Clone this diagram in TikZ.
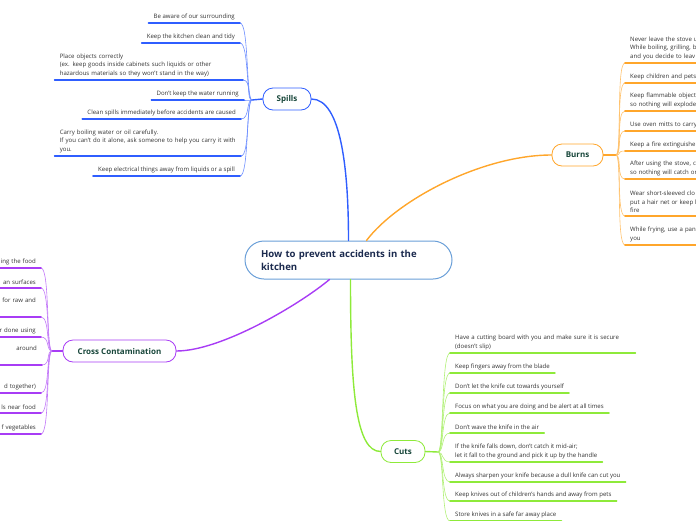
\documentclass[tikz,border=0pt]{standalone}
\usepackage{fontspec}
\setmainfont{Open Sans}
\usepackage{xcolor}
\usepackage{tikz}

\definecolor{spillblue}{HTML}{2F5EFF}
\definecolor{burnorange}{HTML}{FFA62B}
\definecolor{crosspurple}{HTML}{A83CF5}
\definecolor{cutgreen}{HTML}{8EEA3A}
\definecolor{centralblue}{HTML}{6A9FD8}
\definecolor{titlenavy}{HTML}{1B2A4E}
\definecolor{topicgreen}{HTML}{17463A}
\definecolor{leafgray}{HTML}{333333}

\begin{document}
\begin{tikzpicture}[x=1pt, y=-1pt, line cap=round, line join=round,
    leaf/.style={inner xsep=5pt, inner ysep=3pt, align=left, text=leafgray,
        font=\fontsize{6.05}{8.5}\selectfont},
    topic/.style={thick, fill=white, rounded corners=10pt, minimum height=22pt,
        inner sep=0pt, text=topicgreen, font=\fontsize{8}{9}\selectfont\bfseries},
    uline/.style={line width=1.6pt},
    twig/.style={line width=0.6pt},
    bough/.style={line width=1.4pt}]

    \useasboundingbox (0,0) rectangle (696,520);
    \clip (0,0) rectangle (696,520);

    % --- Central topic ---
    \node[draw=centralblue, line width=1pt, fill=white, rounded corners=19pt,
          minimum width=207pt, minimum height=38pt, text width=175pt,
          inner xsep=16pt, align=left, text=titlenavy,
          font=\fontsize{9.6}{13}\selectfont\bfseries]
        (central) at (348.5,260) {How to prevent accidents in the\\kitchen};

    % --- Main topics ---
    \node[topic, draw=spillblue, minimum width=48pt] (spills) at (287,99) {Spills};
    \node[topic, draw=burnorange, minimum width=51pt] (burns) at (577.5,155) {Burns};
    \node[topic, draw=crosspurple, minimum width=113pt] (cross) at (119.5,351) {Cross Contamination};
    \node[topic, draw=cutgreen, minimum width=44pt] (cuts) at (403,451.5) {Cuts};

    % --- Branches from the central topic ---
    \draw[bough, spillblue] (central.north)
        .. controls +(0,-70) and +(30,0) .. (spills.east);
    \draw[bough, burnorange] ([xshift=18pt]central.north)
        .. controls +(30,-40) and +(-70,0) .. (burns.west);
    \draw[bough, crosspurple] ([xshift=-19pt]central.south)
        .. controls +(-30,25) and +(45,0) .. (cross.east);
    \draw[bough, cutgreen] ([xshift=2pt]central.south)
        .. controls +(0,110) and +(-25,0) .. (cuts.west);

    % --- Junctions ---
    \coordinate (sj) at (252,100);
    \coordinate (bj) at (616,155);
    \coordinate (xj) at (52,351);
    \coordinate (cj) at (438,452);
    \draw[bough, spillblue] (spills.west) -- (sj);
    \draw[bough, burnorange] (burns.east) -- (bj);
    \draw[bough, crosspurple] (cross.west) -- (xj);
    \draw[bough, cutgreen] (cuts.east) -- (cj);

    % --- Spills ---
    \node[leaf, anchor=south east] (s1) at (240,23) {Be aware of our surrounding};
    \node[leaf, anchor=south east] (s2) at (240,43) {Keep the kitchen clean and tidy};
    \node[leaf, anchor=south east, text width=178pt] (s3) at (243,80)
        {Place objects correctly\\(ex. keep goods inside cabinets such liquids or other\\hazardous materials so they won't stand in the way)};
    \node[leaf, anchor=south east] (s4) at (244,100) {Don't keep the water running};
    \node[leaf, anchor=south east] (s5) at (241,119) {Clean spills immediately before accidents are caused};
    \node[leaf, anchor=south east, text width=176pt] (s6) at (241,156)
        {Carry boiling water or oil carefully.\\If you can't do it alone, ask someone to help you carry it with\\you.};
    \node[leaf, anchor=south east] (s7) at (240,176) {Keep electrical things away from liquids or a spill};
    \foreach \n in {s1,s2,s3,s4,s5,s6,s7} {
        \draw[twig, spillblue!70] (sj) .. controls +(-6,0) and +(9,0) .. (\n.south east);
        \draw[uline, spillblue] (\n.south west) -- (\n.south east);
    }

    % --- Burns ---
    \node[leaf, anchor=south west, text width=170pt] (b1) at (625,63)
        {Never leave the stove u\\While boiling, grilling, b\\and you decide to leav};
    \node[leaf, anchor=south west, text width=170pt] (b2) at (625,83) {Keep children and pets};
    \node[leaf, anchor=south west, text width=170pt] (b3) at (625,111)
        {Keep flammable object\\so nothing will explode};
    \node[leaf, anchor=south west, text width=170pt] (b4) at (625,131) {Use oven mitts to carry};
    \node[leaf, anchor=south west, text width=170pt] (b5) at (625,151) {Keep a fire extinguishe};
    \node[leaf, anchor=south west, text width=170pt] (b6) at (625,179)
        {After using the stove, c\\so nothing will catch or};
    \node[leaf, anchor=south west, text width=170pt] (b7) at (625,216)
        {Wear short-sleeved clo\\put a hair net or keep h\\fire};
    \node[leaf, anchor=south west, text width=170pt] (b8) at (625,245)
        {While frying, use a pan\\you};
    \foreach \n in {b1,b2,b3,b4,b5,b6,b7,b8} {
        \draw[twig, burnorange!70] (bj) .. controls +(6,0) and +(-9,0) .. (\n.south west);
        \draw[uline, burnorange] (\n.south west) -- (\n.south east);
    }

    % --- Cross Contamination ---
    \node[leaf, anchor=south east, align=right, text width=150pt] (x1) at (41,268) {ing the food};
    \node[leaf, anchor=south east, align=right, text width=150pt] (x2) at (41,288) {an surfaces};
    \node[leaf, anchor=south east, align=right, text width=150pt] (x3) at (41,317) {for raw and\\ \strut};
    \node[leaf, anchor=south east, align=right, text width=150pt] (x4) at (41,337) {r done using};
    \node[leaf, anchor=south east, align=right, text width=150pt] (x5) at (42,365) {around\\ \strut};
    \node[leaf, anchor=south east, align=right, text width=150pt] (x6) at (41,393) {\strut\\d together)};
    \node[leaf, anchor=south east, align=right, text width=150pt] (x7) at (41,413) {ls near food};
    \node[leaf, anchor=south east, align=right, text width=150pt] (x8) at (41,434) {f vegetables};
    \foreach \n in {x1,x2,x3,x4,x5,x6,x7,x8} {
        \draw[twig, crosspurple!70] (xj) .. controls +(-6,0) and +(9,0) .. (\n.south east);
        \draw[uline, crosspurple] (\n.south west) -- (\n.south east);
    }

    % --- Cuts ---
    \node[leaf, anchor=south west, text width=175pt] (c1) at (450,353)
        {Have a cutting board with you and make sure it is secure\\(doesn't slip)};
    \node[leaf, anchor=south west] (c2) at (450,373) {Keep fingers away from the blade};
    \node[leaf, anchor=south west] (c3) at (450,393) {Don't let the knife cut towards yourself};
    \node[leaf, anchor=south west] (c4) at (450,413) {Focus on what you are doing and be alert at all times};
    \node[leaf, anchor=south west] (c5) at (450,433) {Don't wave the knife in the air};
    \node[leaf, anchor=south west] (c6) at (450,462)
        {If the knife falls down, don't catch it mid-air;\\let it fall to the ground and pick it up by the handle};
    \node[leaf, anchor=south west] (c7) at (450,482) {Always sharpen your knife because a dull knife can cut you};
    \node[leaf, anchor=south west] (c8) at (450,501) {Keep knives out of children's hands and away from pets};
    \node[leaf, anchor=south west] (c9) at (450,521) {Store knives in a safe far away place};
    \foreach \n in {c1,c2,c3,c4,c5,c6,c7,c8,c9} {
        \draw[twig, cutgreen!70] (cj) .. controls +(6,0) and +(-9,0) .. (\n.south west);
        \draw[uline, cutgreen] (\n.south west) -- (\n.south east);
    }

\end{tikzpicture}
\end{document}
